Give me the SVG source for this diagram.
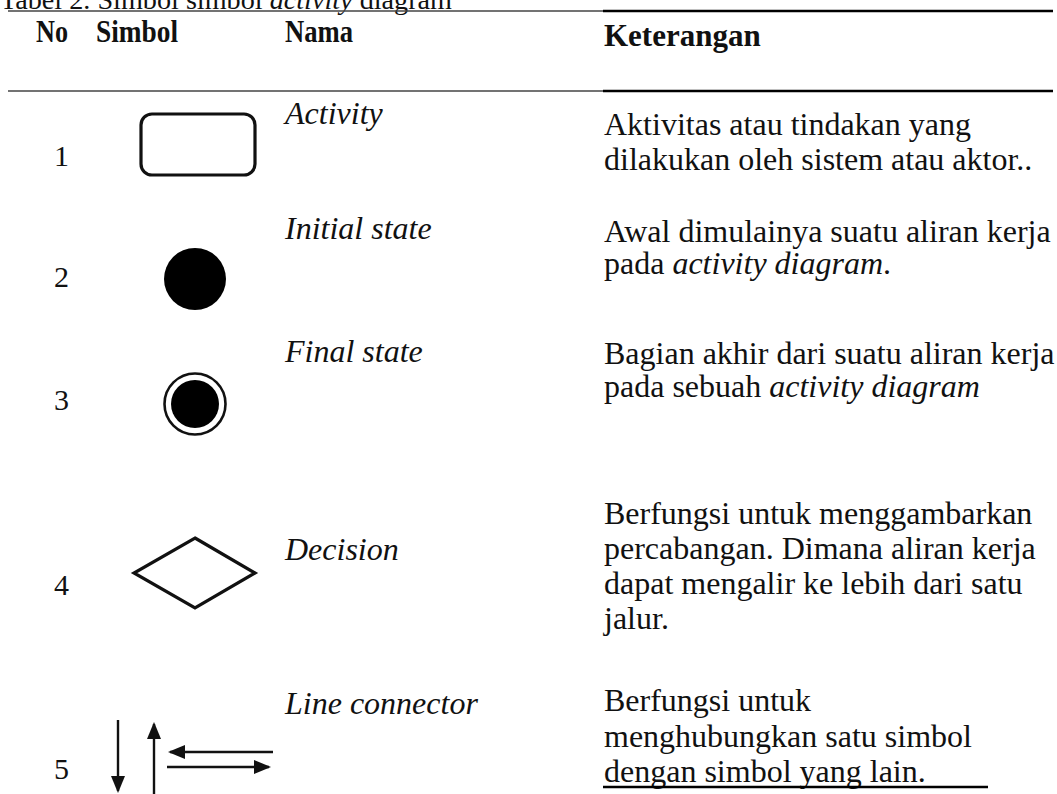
<svg xmlns="http://www.w3.org/2000/svg" width="1057" height="794" viewBox="0 0 1057 794">
  <style>
    text { font-family: "Liberation Serif", "Times New Roman", serif; font-size: 32px; fill: #111; }
    .hd { font-weight: bold; font-size: 31px; }
    .it { font-style: italic; }
    .no { font-size: 30px; }
    .rule-a { stroke: #444; stroke-width: 1.6; }
    .rule-b { stroke: #000; stroke-width: 2.6; }
    .sym { fill: none; stroke: #111; stroke-width: 3.2; }
    .solid { fill: #000; stroke: none; }
    .arrow { stroke: #111; stroke-width: 2.4; fill: none; marker-end: url(#head); }
  </style>
  <defs>
    <marker id="head" viewBox="0 0 17 14" refX="15" refY="7" markerWidth="17" markerHeight="14" markerUnits="userSpaceOnUse" orient="auto">
      <path d="M0,0 L17,7 L0,14 z" fill="#111"/>
    </marker>
  </defs>

  <rect width="1057" height="794" fill="#fff"/>

  <!-- caption (top of the page is clipped) -->
  <text id="caption" x="0" y="9" style="font-size:28px" textLength="452" lengthAdjust="spacingAndGlyphs">Tabel 2. Simbol simbol <tspan class="it">activity</tspan> diagram</text>

  <!-- table rules -->
  <g id="rules">
    <line class="rule-a" x1="8" y1="11" x2="603" y2="11"/>
    <line class="rule-b" x1="603" y1="11" x2="1053" y2="11"/>
    <line class="rule-a" x1="8" y1="91" x2="603" y2="91"/>
    <line class="rule-b" x1="603" y1="91" x2="1053" y2="91"/>
  </g>

  <!-- header row -->
  <g id="header">
    <text class="hd" x="36" y="42" textLength="32" lengthAdjust="spacingAndGlyphs">No</text>
    <text class="hd" x="96" y="42" textLength="82" lengthAdjust="spacingAndGlyphs">Simbol</text>
    <text class="hd" x="285" y="42" textLength="68" lengthAdjust="spacingAndGlyphs">Nama</text>
    <text class="hd" x="604" y="46">Keterangan</text>
  </g>

  <!-- 1: activity -->
  <g id="row-activity">
    <text class="no" x="54" y="166">1</text>
    <rect class="sym" x="141" y="114" width="114" height="61" rx="11"/>
    <text class="it" x="285" y="124">Activity</text>
    <text x="604" y="135">Aktivitas atau tindakan yang</text>
    <text x="604" y="170">dilakukan oleh sistem atau aktor..</text>
  </g>

  <!-- 2: initial state -->
  <g id="row-initial">
    <text class="no" x="54" y="287">2</text>
    <circle class="solid" cx="195" cy="279" r="31"/>
    <text class="it" x="285" y="239">Initial state</text>
    <text x="604" y="242">Awal dimulainya suatu aliran kerja</text>
    <text x="604" y="274">pada <tspan class="it">activity diagram</tspan>.</text>
  </g>

  <!-- 3: final state -->
  <g id="row-final">
    <text class="no" x="54" y="410">3</text>
    <circle cx="195" cy="404" r="30.5" fill="none" stroke="#111" stroke-width="2.6"/>
    <circle class="solid" cx="195" cy="404" r="24"/>
    <text class="it" x="285" y="362">Final state</text>
    <text x="604" y="364">Bagian akhir dari suatu aliran kerja</text>
    <text x="604" y="397">pada sebuah <tspan class="it">activity diagram</tspan></text>
  </g>

  <!-- 4: decision -->
  <g id="row-decision">
    <text class="no" x="54" y="595">4</text>
    <polygon class="sym" points="195,538 255,573 195,608 134,573"/>
    <text class="it" x="285" y="560">Decision</text>
    <text x="604" y="524">Berfungsi untuk menggambarkan</text>
    <text x="604" y="559">percabangan. Dimana aliran kerja</text>
    <text x="604" y="594">dapat mengalir ke lebih dari satu</text>
    <text x="604" y="629">jalur.</text>
  </g>

  <!-- 5: line connector -->
  <g id="row-connector">
    <text class="no" x="54" y="779">5</text>
    <line class="arrow" x1="118" y1="720" x2="118" y2="791"/>
    <line class="arrow" x1="154" y1="794" x2="154" y2="724"/>
    <line class="arrow" x1="273" y1="752" x2="170" y2="752"/>
    <line class="arrow" x1="167" y1="767" x2="269" y2="767"/>
    <text class="it" x="285" y="714">Line connector</text>
    <text x="604" y="711">Berfungsi untuk</text>
    <text x="604" y="747">menghubungkan satu simbol</text>
    <text x="604" y="782">dengan simbol yang lain.</text>
    <line x1="603" y1="787" x2="988" y2="787" stroke="#000" stroke-width="2.4"/>
  </g>
</svg>
